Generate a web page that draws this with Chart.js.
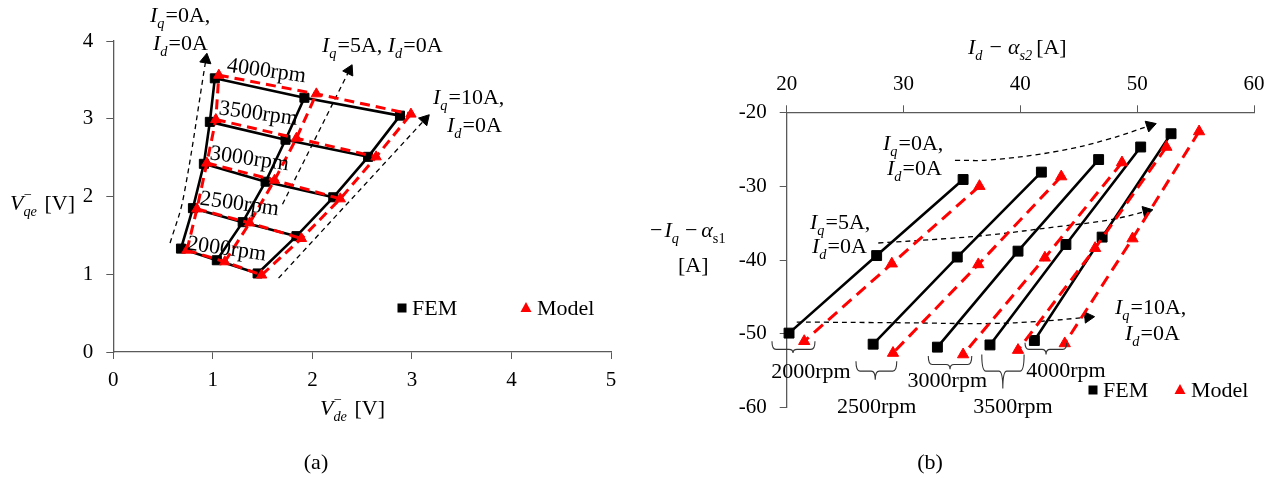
<!DOCTYPE html>
<html><head><meta charset="utf-8">
<script src="https://cdn.jsdelivr.net/npm/chart.js@4/dist/chart.umd.min.js"></script>
<style>
html,body{margin:0;padding:0;background:#fff;overflow:hidden}
#wrap{position:relative;width:1277px;height:483px;background:#fff}
canvas{position:absolute;top:0}
#ca{left:0}#cb{left:640px}
</style></head>
<body><div id="wrap"><canvas id="ca" width="640" height="483"></canvas><canvas id="cb" width="637" height="483"></canvas></div>
<script>
// ---------- data ----------
const speedsA = ['2000rpm','2500rpm','3000rpm','3500rpm','4000rpm'];
const iqA = ['Iq=0A','Iq=5A','Iq=10A'];
// (a) V_de^- / V_qe^- per speed, per Iq (0,5,10 A)
const femVdeA   = [[0.68,1.04,1.45],[0.80,1.30,1.84],[0.91,1.53,2.21],[0.97,1.73,2.56],[1.02,1.92,2.88]];
const femVqeA   = [[1.33,1.18,1.01],[1.85,1.67,1.49],[2.42,2.19,1.99],[2.96,2.73,2.51],[3.52,3.27,3.04]];
const modelVdeA = [[0.74,1.12,1.49],[0.84,1.37,1.89],[0.94,1.62,2.28],[1.03,1.84,2.64],[1.06,2.04,2.99]];
const modelVqeA = [[1.31,1.16,0.99],[1.84,1.66,1.46],[2.43,2.21,1.97],[2.99,2.75,2.51],[3.56,3.32,3.06]];
// (b) Id-alpha_s2 / -Iq-alpha_s1 per speed, per Iq (0,5,10 A)
const femIdB    = [[35.1,27.7,20.2],[41.8,34.6,27.4],[46.7,39.8,32.9],[50.3,43.9,37.4],[52.9,47.0,41.2]];
const femIqB    = [[-29.1,-39.4,-49.9],[-28.1,-39.6,-51.4],[-26.4,-38.8,-51.8],[-24.7,-37.9,-51.5],[-22.9,-36.9,-50.9]];
const modelIdB  = [[36.5,29.0,21.5],[43.5,36.4,29.1],[48.7,42.1,35.1],[52.5,46.4,39.8],[55.3,49.6,43.8]];
const modelIqB  = [[-30.0,-40.5,-51.0],[-28.7,-40.6,-52.6],[-26.8,-39.7,-52.8],[-24.7,-38.4,-52.2],[-22.6,-37.1,-51.3]];
// tick labels
const xTicksA = [0,1,2,3,4,5];
const yTicksA = [0,1,2,3,4];
const xTicksB = [20,30,40,50,60];
const yTicksB = [-60,-50,-40,-30,-20];
// annotation arrows (data coords)
const arrowA0  = [{x:0.57,y:1.40},{x:0.70,y:1.96},{x:0.93,y:3.76}];
const arrowA5  = [{x:1.70,y:1.90},{x:2.37,y:3.62}];
const arrowA10 = [{x:1.66,y:0.95},{x:3.13,y:2.99}];
const arrowB0  = [{x:34.4,y:-26.5},{x:37.4,y:-26.45},{x:43.1,y:-25.3},{x:47.4,y:-23.7},{x:51.1,y:-21.8}];
const arrowB5  = [{x:27.84,y:-37.7},{x:33.7,y:-37.1},{x:37.4,y:-36.6},{x:43.1,y:-35.5},{x:47.7,y:-34.55},{x:50.8,y:-33.4}];
const arrowB10 = [{x:20.86,y:-48.4},{x:30,y:-48.5},{x:37.4,y:-48.6},{x:41.7,y:-48.3},{x:45.8,y:-47.75}];
// rpm label anchors for (a) (data coords), braces for (b) (data coords)
const rpmLabelA = [{x:1.14,y:1.34},{x:1.27,y:1.92},{x:1.37,y:2.50},{x:1.46,y:3.08},{x:1.54,y:3.63}];
const braceX0B  = [18.74,25.93,32.12,36.7,40.4];
const braceX1B  = [22.42,29.42,35.84,40.32,43.97];
const braceTipXB= [20.54,27.58,33.98,38.5,42.2];
const braceTopB = [-51.0,-53.7,-53.0,-52.8,-51.2];
const braceMidB = [-52.1,-55.05,-54.15,-55.05,-52.1];
const braceTipB = [-52.6,-56.2,-54.8,-57.4,-52.8];
const braceLblXB= [22.08,27.7,33.75,39.37,43.9];
const braceLblYB= [-55.05,-59.7,-56.2,-59.7,-54.85];

// ---------- styling ----------
const FONT = '"Liberation Serif","Times New Roman",serif';
const RED = '#ff0000', BLK = '#000000', AX = '#5a5a5a';
const TS = 22;

function fnt(it, sz){ return (it?'italic ':'') + sz + 'px ' + FONT; }
function runW(ctx, r, sz){
  if (r.g !== undefined) return r.g;
  if (r.sup !== undefined){
    ctx.font = fnt(false, sz*0.65); const a = ctx.measureText(r.sup).width;
    ctx.font = fnt(true, sz*0.65); const b = ctx.measureText(r.sub).width;
    return Math.max(a,b) + 2;
  }
  const s = r.s ? sz*0.65 : sz; ctx.font = fnt(r.i, s);
  return ctx.measureText(r.t).width + (r.s ? 1 : 0);
}
function drawRich(ctx, runs, x, y, o){
  o = o || {}; const sz = o.size || TS;
  ctx.save(); ctx.translate(x, y); if (o.rot) ctx.rotate(o.rot*Math.PI/180);
  let w = 0; runs.forEach(r => w += runW(ctx, r, sz));
  let cx = o.align === 'center' ? -w/2 : 0;
  ctx.fillStyle = '#000'; ctx.textBaseline = 'alphabetic';
  const base = sz*0.33;
  runs.forEach(r => {
    if (r.g !== undefined){ cx += r.g; return; }
    if (r.sup !== undefined){
      ctx.font = fnt(false, sz*0.65); ctx.fillText(r.sup, cx, base - sz*0.52);
      ctx.font = fnt(true, sz*0.65); ctx.fillText(r.sub, cx, base + sz*0.24);
    } else {
      const s = r.s ? sz*0.65 : sz; ctx.font = fnt(r.i, s);
      ctx.fillText(r.t, cx, base + (r.s ? sz*0.24 : 0));
    }
    cx += runW(ctx, r, sz);
  });
  ctx.restore();
}
const Iq = v => [{t:'I',i:1},{t:'q',i:1,s:1},{t:v}];
const Id = v => [{t:'I',i:1},{t:'d',i:1,s:1},{t:v}];

function axis(min, max, ticksArr, pos, size, pad){
  return {
    type:'linear', position:pos, min:min, max:max,
    afterBuildTicks: s => { s.ticks = ticksArr.map(v => ({value:v})); },
    afterFit: s => { if (s.isHorizontal()) s.height = size; else s.width = size; },
    grid:{drawOnChartArea:false, drawTicks:true, tickLength:7, color:AX, lineWidth:1},
    border:{display:true, color:AX, width:1.3},
    ticks:{color:'#000', font:{family:FONT, size:21}, padding:pad, maxRotation:0, autoSkip:false}
  };
}
function arrowRot(ctx){
  const d = ctx.dataset.data, i = ctx.dataIndex;
  if (i === 0) return 0;
  const xs = ctx.chart.scales.x, ys = ctx.chart.scales.y;
  const dx = xs.getPixelForValue(d[i].x) - xs.getPixelForValue(d[i-1].x);
  const dy = ys.getPixelForValue(d[i].y) - ys.getPixelForValue(d[i-1].y);
  return Math.atan2(dx, -dy)*180/Math.PI;
}
function arrowDs(data, tension){
  return {data:data, showLine:true, borderColor:BLK, borderWidth:1.3, borderDash:[5,4], tension:tension||0,
    pointStyle:'triangle', pointRadius: c => c.dataIndex === data.length-1 ? 6.5 : 0,
    pointRotation: arrowRot, pointBackgroundColor:BLK, pointBorderColor:BLK, pointBorderWidth:1, clip:false};
}
function buildSets(fx, fy, mx, my, o){
  const ds = [];
  speedsA.forEach((s,i) => ds.push({data: iqA.map((q,j) => ({x:mx[i][j], y:my[i][j]})), showLine:true,
    borderColor:RED, borderWidth:3, borderDash:o.dash, pointStyle:'triangle', pointRadius:o.tr,
    pointBackgroundColor:RED, pointBorderColor:RED, pointBorderWidth:1, clip:false}));
  if (o.cols) iqA.forEach((q,j) => ds.push({data: speedsA.map((s,i) => ({x:mx[i][j], y:my[i][j]})), showLine:true,
    borderColor:RED, borderWidth:3, borderDash:o.dash, pointRadius:0, clip:false}));
  speedsA.forEach((s,i) => ds.push({data: iqA.map((q,j) => ({x:fx[i][j], y:fy[i][j]})), showLine:true,
    borderColor:BLK, borderWidth:2.6, pointStyle:'rect', pointRadius:o.sq,
    pointBackgroundColor:BLK, pointBorderColor:BLK, pointBorderWidth:1, clip:false}));
  if (o.cols) iqA.forEach((q,j) => ds.push({data: speedsA.map((s,i) => ({x:fx[i][j], y:fy[i][j]})), showLine:true,
    borderColor:BLK, borderWidth:2.6, pointRadius:0, clip:false}));
  return ds;
}
function legend(ctx, xs, y, xt){
  ctx.save();
  ctx.fillStyle = BLK; ctx.fillRect(xs-4.5, y-4.5, 9, 9);
  drawRich(ctx, [{t:'FEM'}], xs+10, y);
  ctx.fillStyle = RED; ctx.beginPath(); ctx.moveTo(xt, y-6); ctx.lineTo(xt+5.5, y+4); ctx.lineTo(xt-5.5, y+4); ctx.closePath(); ctx.fill();
  drawRich(ctx, [{t:'Model'}], xt+11, y);
  ctx.restore();
}

// ---------- chart (a) ----------
const setsA = buildSets(femVdeA, femVqeA, modelVdeA, modelVqeA, {dash:[10,6], tr:6, sq:6.4, cols:true});
setsA.push(arrowDs(arrowA0, 0.35), arrowDs(arrowA5), arrowDs(arrowA10));

const textA = {
  id:'textA',
  afterDraw(chart){
    const ctx = chart.ctx, xs = chart.scales.x, ys = chart.scales.y;
    drawRich(ctx, Iq('=0A,'), 150, 15);
    drawRich(ctx, Id('=0A'), 153, 43);
    drawRich(ctx, Iq('=5A, ').concat(Id('=0A')), 322, 45);
    drawRich(ctx, Iq('=10A,'), 433, 97);
    drawRich(ctx, Id('=0A'), 447, 125);
    speedsA.forEach((s,i) => drawRich(ctx, [{t:s}], xs.getPixelForValue(rpmLabelA[i].x), ys.getPixelForValue(rpmLabelA[i].y), {align:'center', rot:8}));
    drawRich(ctx, [{t:'V',i:1},{sup:'\u2212', sub:'qe'},{t:' [V]'}], 10, 203);
    drawRich(ctx, [{t:'V',i:1},{sup:'\u2212', sub:'de'},{t:' [V]'}], 320, 408);
    drawRich(ctx, [{t:'(a)'}], 316, 462, {align:'center'});
    legend(ctx, 402, 308, 526);
  }
};
new Chart(document.getElementById('ca'), {
  type:'scatter',
  data:{datasets:setsA},
  options:{
    responsive:false, animation:false, events:[],
    layout:{padding:{left:0, right:29, top:41, bottom:71}},
    scales:{ x: axis(0,5,xTicksA,'bottom',60,9), y: axis(0,4,yTicksA,'left',113.3,13) },
    plugins:{legend:{display:false}, tooltip:{enabled:false}}
  },
  plugins:[textA]
});

// ---------- chart (b) ----------
const setsB = buildSets(femIdB, femIqB, modelIdB, modelIqB, {dash:[12,7], tr:6.5, sq:7, cols:false});
setsB.push(arrowDs(arrowB0, 0.4), arrowDs(arrowB5, 0.4), arrowDs(arrowB10, 0.4));

const textB = {
  id:'textB',
  afterDraw(chart){
    const ctx = chart.ctx, xs = chart.scales.x, ys = chart.scales.y;
    ctx.save(); ctx.translate(-640, 0);
    const px = v => xs.getPixelForValue(v) + 640, py = v => ys.getPixelForValue(v);
    drawRich(ctx, [{t:'I',i:1},{t:'d',i:1,s:1},{g:6},{t:'\u2212'},{g:6},{t:'\u03b1',i:1},{t:'s2',i:1,s:1},{g:3},{t:'[A]'}], 968, 47);
    drawRich(ctx, [{t:'\u2212'},{g:2},{t:'I',i:1},{t:'q',i:1,s:1},{g:5},{t:'\u2212'},{g:4},{t:'\u03b1',i:1},{t:'s1',s:1}], 650, 230);
    drawRich(ctx, [{t:'[A]'}], 678, 265);
    drawRich(ctx, Iq('=0A,'), 883, 143);
    drawRich(ctx, Id('=0A'), 887, 168);
    drawRich(ctx, Iq('=5A,'), 810, 222);
    drawRich(ctx, Id('=0A'), 812, 246);
    drawRich(ctx, Iq('=10A,'), 1115, 307);
    drawRich(ctx, Id('=0A'), 1125, 333);
    ctx.strokeStyle = '#333'; ctx.lineWidth = 1.1;
    speedsA.forEach((s,i) => {
      const x0 = px(braceX0B[i]), x1 = px(braceX1B[i]), xt = px(braceTipXB[i]);
      const yt = py(braceTopB[i]), ym = py(braceMidB[i]), yp = py(braceTipB[i]);
      const r = 4;
      ctx.beginPath();
      ctx.moveTo(x0, yt); ctx.quadraticCurveTo(x0, ym, x0+r, ym);
      ctx.lineTo(xt-r, ym); ctx.quadraticCurveTo(xt, ym, xt, yp);
      ctx.quadraticCurveTo(xt, ym, xt+r, ym);
      ctx.lineTo(x1-r, ym); ctx.quadraticCurveTo(x1, ym, x1, yt);
      ctx.stroke();
      drawRich(ctx, [{t:s}], px(braceLblXB[i]), py(braceLblYB[i]), {align:'center'});
    });
    drawRich(ctx, [{t:'(b)'}], 930, 462, {align:'center'});
    legend(ctx, 1093, 390, 1180);
    ctx.restore();
  }
};
new Chart(document.getElementById('cb'), {
  type:'scatter',
  data:{datasets:setsB},
  options:{
    responsive:false, animation:false, events:[],
    layout:{padding:{left:0, right:23, top:52.3, bottom:75.3}},
    scales:{ x: axis(20,60,xTicksB,'top',60,8), y: axis(-60,-20,yTicksB,'left',146.7,13) },
    plugins:{legend:{display:false}, tooltip:{enabled:false}}
  },
  plugins:[textB]
});
</script>
</body></html>
